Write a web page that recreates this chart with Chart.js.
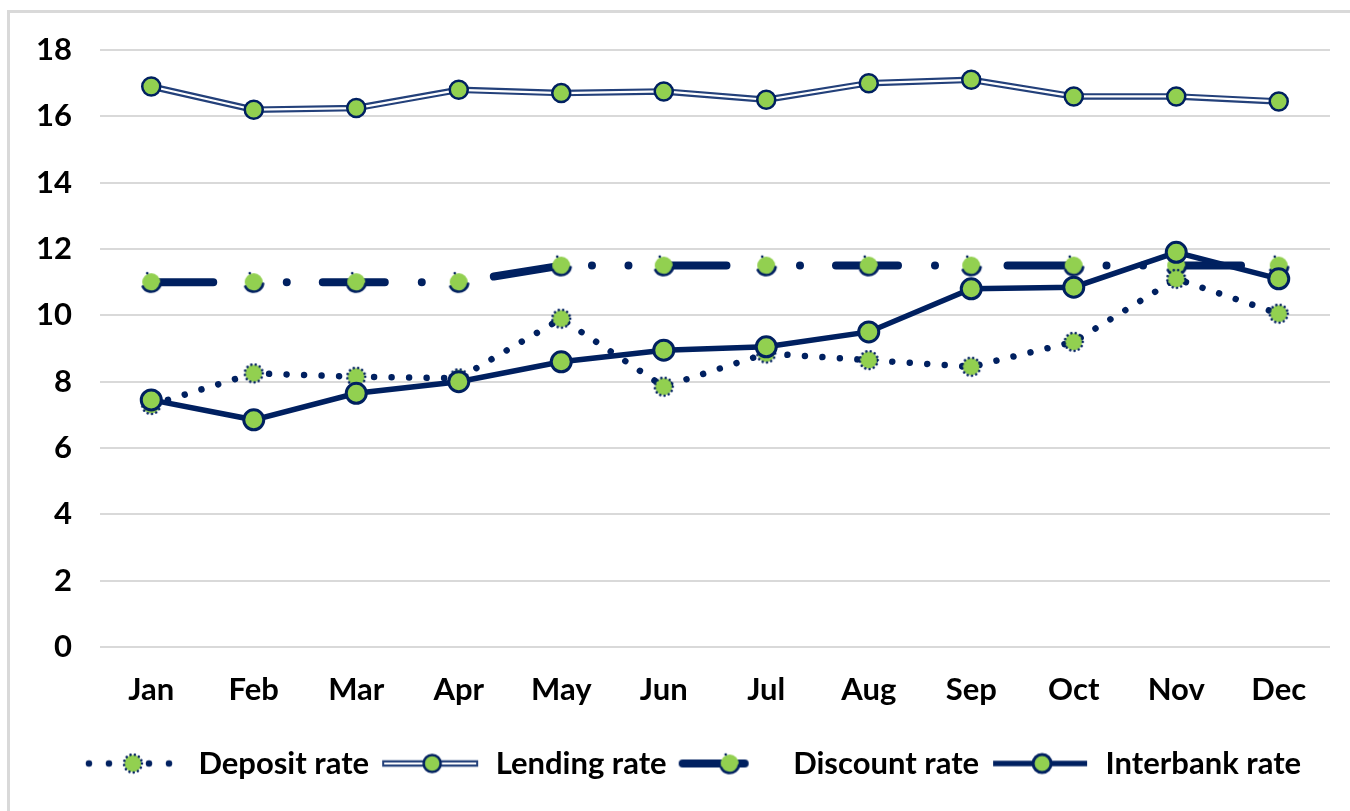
<!DOCTYPE html>
<html>
<head>
<meta charset="utf-8">
<style>
  html, body { margin: 0; padding: 0; background: #ffffff; overflow: hidden; }
  #frame { position: absolute; left: 7px; top: 10px; width: 1400px; height: 900px; border: 3px solid #d9d9d9; box-sizing: border-box; }
  #wrap { position: absolute; left: 0; top: 0; width: 1350px; height: 811px; }
</style>
<script src="https://cdn.jsdelivr.net/npm/chart.js@4.4.1/dist/chart.umd.min.js"></script>
</head>
<body>
<div id="frame"></div>
<div id="wrap"><canvas id="c"></canvas></div>
<script>
// Monthly interest rates (%)
const months = ['Jan', 'Feb', 'Mar', 'Apr', 'May', 'Jun', 'Jul', 'Aug', 'Sep', 'Oct', 'Nov', 'Dec'];
const depositRate   = [7.3, 8.25, 8.15, 8.1, 9.9, 7.85, 8.85, 8.65, 8.45, 9.2, 11.1, 10.05];
const lendingRate   = [16.9, 16.2, 16.25, 16.8, 16.7, 16.75, 16.5, 17.0, 17.1, 16.6, 16.6, 16.45];
const discountRate  = [11.0, 11.0, 11.0, 11.0, 11.5, 11.5, 11.5, 11.5, 11.5, 11.5, 11.5, 11.5];
const interbankRate = [7.45, 6.85, 7.65, 8.0, 8.6, 8.95, 9.05, 9.5, 10.8, 10.85, 11.9, 11.1];
const seriesNames = ['Deposit rate', 'Lending rate', 'Discount rate', 'Interbank rate'];
const yTicks = { min: 0, max: 18, step: 2 };

const NAVY = '#002060';
const GREEN = '#92D050';
const GRID = '#d9d9d9';
const FONT = 'Lato, "Noto Sans", sans-serif';
const FONT_SIZE = 31;

const discountDash = [62, 37, 0.01, 36.5, 0.01, 36];

function makeCanvas(w, h, draw) {
  const c = document.createElement('canvas');
  c.width = w; c.height = h;
  draw(c.getContext('2d'), w, h);
  return c;
}

// marker with a dotted outline
function drawDepositMarker(ctx, x, y) {
  ctx.beginPath(); ctx.arc(x, y, 8.5, 0, Math.PI * 2); ctx.fillStyle = GREEN; ctx.fill();
  ctx.save();
  ctx.setLineDash([0.01, 4.4]); ctx.lineCap = 'round'; ctx.lineWidth = 2.6; ctx.strokeStyle = NAVY;
  ctx.beginPath(); ctx.arc(x, y, 9, 0, Math.PI * 2); ctx.stroke();
  ctx.restore();
}
// marker with a broken outline
function drawDiscountMarker(ctx, x, y) {
  ctx.beginPath(); ctx.arc(x, y, 9, 0, Math.PI * 2); ctx.fillStyle = GREEN; ctx.fill();
  ctx.save();
  ctx.lineCap = 'round'; ctx.lineWidth = 2.6; ctx.strokeStyle = NAVY;
  ctx.beginPath(); ctx.arc(x, y, 9.5, 0.05 * Math.PI, 0.85 * Math.PI); ctx.stroke();
  ctx.beginPath(); ctx.arc(x - 4, y - 9, 1.3, 0, Math.PI * 2); ctx.fillStyle = NAVY; ctx.fill();
  ctx.restore();
}
function drawRingMarker(ctx, x, y, r, bw) {
  ctx.beginPath(); ctx.arc(x, y, r, 0, Math.PI * 2);
  ctx.fillStyle = GREEN; ctx.fill();
  ctx.lineWidth = bw; ctx.strokeStyle = NAVY; ctx.stroke();
}

const depositPoint = makeCanvas(24, 24, (ctx) => drawDepositMarker(ctx, 12, 12));
const discountPoint = makeCanvas(24, 24, (ctx) => drawDiscountMarker(ctx, 12, 12));

// legend samples: line style with the marker in the middle
const SW = 100, SH = 28, MY = 14;
const legendSamples = [
  makeCanvas(SW, SH, (ctx) => {
    ctx.setLineDash([0.01, 20]); ctx.lineCap = 'round'; ctx.lineWidth = 6.5; ctx.strokeStyle = NAVY;
    ctx.beginPath(); ctx.moveTo(6, MY); ctx.lineTo(96, MY); ctx.stroke();
    ctx.setLineDash([]);
    drawDepositMarker(ctx, 50, MY);
  }),
  makeCanvas(SW, SH, (ctx) => {
    ctx.lineWidth = 6.5; ctx.strokeStyle = '#23407a';
    ctx.beginPath(); ctx.moveTo(2, MY); ctx.lineTo(98, MY); ctx.stroke();
    ctx.lineWidth = 2.2; ctx.strokeStyle = '#ffffff';
    ctx.beginPath(); ctx.moveTo(4, MY); ctx.lineTo(96, MY); ctx.stroke();
    drawRingMarker(ctx, 52, MY, 8.5, 2.5);
  }),
  makeCanvas(SW, SH, (ctx) => {
    ctx.setLineDash(discountDash); ctx.lineCap = 'round'; ctx.lineWidth = 8; ctx.strokeStyle = NAVY;
    ctx.beginPath(); ctx.moveTo(5, MY); ctx.lineTo(98, MY); ctx.stroke();
    ctx.setLineDash([]);
    drawDiscountMarker(ctx, 52, MY);
  }),
  makeCanvas(SW, SH, (ctx) => {
    ctx.lineWidth = 5.5; ctx.strokeStyle = NAVY;
    ctx.beginPath(); ctx.moveTo(3, MY); ctx.lineTo(97, MY); ctx.stroke();
    drawRingMarker(ctx, 52, MY, 9, 3);
  })
];

const datasets = [
  {
    label: seriesNames[0], data: depositRate, order: 1,
    borderColor: NAVY, borderWidth: 6.5, borderDash: [0.01, 17.5], borderCapStyle: 'round',
    pointStyle: depositPoint, pointRadius: 9, fill: false, tension: 0
  },
  {
    label: seriesNames[1], data: lendingRate, order: 4,
    borderColor: '#23407a', borderWidth: 6.5, pointRadius: 0, fill: false, tension: 0
  },
  {
    label: seriesNames[1], data: lendingRate, order: 3,
    borderColor: '#ffffff', borderWidth: 2.2, pointRadius: 9, pointBorderWidth: 2.5,
    pointBackgroundColor: GREEN, pointBorderColor: NAVY, fill: false, tension: 0
  },
  {
    label: seriesNames[2], data: discountRate, order: 2,
    borderColor: NAVY, borderWidth: 8, borderDash: discountDash, borderCapStyle: 'round',
    pointStyle: discountPoint, pointRadius: 9, fill: false, tension: 0
  },
  {
    label: seriesNames[3], data: interbankRate, order: 0,
    borderColor: NAVY, borderWidth: 5.5, pointRadius: 10, pointBorderWidth: 3,
    pointBackgroundColor: GREEN, pointBorderColor: NAVY, fill: false, tension: 0
  }
];

// nudge the legend row to the right of the canvas centre
const legendShift = {
  id: 'legendShift',
  afterLayout(chart) {
    if (chart.legend) { chart.legend.left += 17; chart.legend.right += 17; }
  }
};

new Chart(document.getElementById('c'), {
  type: 'line',
  data: { labels: months, datasets },
  plugins: [legendShift],
  options: {
    responsive: true,
    maintainAspectRatio: false,
    animation: false,
    events: [],
    layout: { padding: { left: 20, right: 20, top: 50, bottom: 22 } },
    scales: {
      x: {
        offset: true,
        grid: { display: false, drawTicks: false },
        border: { display: false },
        ticks: { color: '#000', padding: 24, font: { family: FONT, size: FONT_SIZE, weight: 'bold' } },
        afterFit: (s) => { s.height = 90; }
      },
      y: {
        min: yTicks.min, max: yTicks.max,
        grid: { color: GRID, lineWidth: 2, drawTicks: false },
        border: { display: false },
        ticks: { stepSize: yTicks.step, color: '#000', padding: 28, font: { family: FONT, size: FONT_SIZE, weight: 'bold' } },
        afterFit: (s) => { s.width = 80; }
      }
    },
    plugins: {
      tooltip: { enabled: false },
      title: { display: false },
      legend: {
        position: 'bottom',
        labels: {
          usePointStyle: true,
          pointStyleWidth: SW,
          padding: 11,
          color: '#000',
          font: { family: FONT, size: FONT_SIZE, weight: 'bold' },
          generateLabels: () => seriesNames.map((name, i) => ({
            text: name,
            pointStyle: legendSamples[i],
            fillStyle: GREEN,
            strokeStyle: NAVY,
            lineWidth: 0,
            hidden: false,
            datasetIndex: i
          }))
        }
      }
    }
  }
});
</script>
</body>
</html>
